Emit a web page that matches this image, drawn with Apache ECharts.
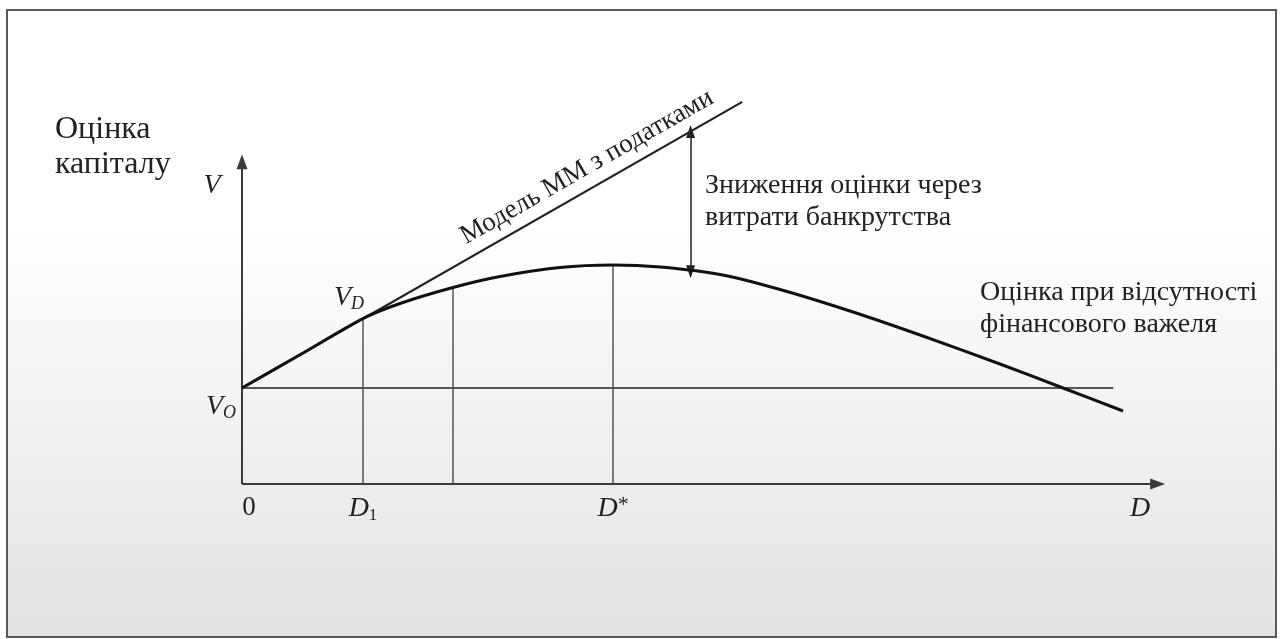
<!DOCTYPE html>
<html>
<head>
<meta charset="utf-8">
<script src="https://cdn.jsdelivr.net/npm/echarts@6/dist/echarts.min.js"></script>
<style>
html,body{margin:0;padding:0;background:#fff;}
#chart{width:1283px;height:639px;}
</style>
</head>
<body>
<div id="chart"></div>
<script>
// ---- data (conceptual units: debt D on x, firm value V on y) ----
const curveDebt  = [0, 6.28, 13.11, 17.12, 22.86, 27.95, 34.45, 40.20, 45.29, 51.79, 58.29, 65.87, 73.46, 82.12, 88.95, 95.45];
const curveValue = [25.0, 33.65, 43.1, 47.01, 51.17, 54.04, 56.38, 57.03, 56.51, 54.56, 50.65, 45.05, 38.80, 31.25, 25.0, 19.01];
const mmTaxDebt  = [0, 54.2];
const mmTaxValue = [25.0, 99.5];
const baseDebt   = [0, 94.4];
const baseValue  = [25.0, 25.0];
const dropDebt   = [13.11, 22.86, 40.20];
const dropValue  = [43.1, 51.17, 57.03];
const gapDebt    = [48.6, 48.6];
const gapValue   = [55.3, 91.8];
const axisXEnd   = 99.2;
const axisYEnd   = 83.9;
const xTickValues = [0, 13.11, 40.20, 97.3];
const xTickLabels = ['0', 'D1', 'D*', 'D'];

const zip = (a, b) => a.map((v, i) => [v, b[i]]);
const SERIF = "'Liberation Serif', 'DejaVu Serif', serif";
const TXT = '#222';
const tri = 'path://M5,0 L10,15 L0,15 Z';

const chart = echarts.init(document.getElementById('chart'), null, {renderer: 'canvas'});

function tickFmt(v) {
  const i = xTickValues.indexOf(v);
  if (i < 0) return '';
  const t = xTickLabels[i];
  if (t === '0') return '{n|0}';
  if (t === 'D1') return '{it|D}{sub|1}';
  if (t === 'D*') return '{it|D}{st|*}';
  return '{it|D}';
}

function gText(x, y, text, size, extra) {
  return {
    type: 'text', x: x, y: y, z: 50,
    style: Object.assign({
      text: text, font: size + "px " + SERIF, fill: TXT,
      textAlign: 'left', textVerticalAlign: 'middle'
    }, extra || {})
  };
}

const subRich = {
  it:  {fontFamily: SERIF, fontSize: 28, fontStyle: 'italic', fill: TXT, lineHeight: 30},
  sub: {fontFamily: SERIF, fontSize: 18, fontStyle: 'italic', fill: TXT, lineHeight: 22, verticalAlign: 'bottom'}
};

const option = {
  animation: false,
  backgroundColor: '#ffffff',
  grid: {left: 242, right: 118, top: 100, bottom: 155, containLabel: false},
  xAxis: {
    type: 'value', min: 0, max: 100,
    axisLine: {show: false}, axisTick: {show: false}, splitLine: {show: false},
    axisLabel: {
      show: true, customValues: xTickValues, margin: 10,
      formatter: tickFmt,
      rich: {
        n:   {fontFamily: SERIF, fontSize: 27, color: TXT, padding: [0, 0, 0, 14]},
        it:  {fontFamily: SERIF, fontSize: 28, fontStyle: 'italic', color: TXT, lineHeight: 30},
        sub: {fontFamily: SERIF, fontSize: 17, color: TXT, lineHeight: 20, verticalAlign: 'bottom'},
        st:  {fontFamily: SERIF, fontSize: 22, color: TXT, lineHeight: 30, verticalAlign: 'top'}
      }
    }
  },
  yAxis: {
    type: 'value', min: 0, max: 100,
    axisLine: {show: false}, axisTick: {show: false}, splitLine: {show: false},
    axisLabel: {show: false}
  },
  graphic: [
    {
      type: 'rect', z: -10, silent: true,
      shape: {x: 7, y: 10, width: 1269, height: 627},
      style: {
        stroke: '#5a5a5a', lineWidth: 2,
        fill: new echarts.graphic.LinearGradient(0, 0, 0, 1, [
          {offset: 0, color: '#ffffff'},
          {offset: 0.35, color: '#ffffff'},
          {offset: 1, color: '#e3e3e3'}
        ])
      }
    },
    gText(55, 130, 'Оцінка', 32),
    gText(55, 165, 'капіталу', 32),
    gText(212, 186, 'V', 28, {font: "italic 28px " + SERIF, textAlign: 'center'}),
    {
      type: 'text', x: 334, y: 298, z: 50,
      style: {text: '{it|V}{sub|D}', textVerticalAlign: 'middle', rich: subRich}
    },
    {
      type: 'text', x: 206, y: 407, z: 50,
      style: {text: '{it|V}{sub|O}', textVerticalAlign: 'middle', rich: subRich}
    },
    {
      type: 'text', x: 587, y: 167, z: 50, rotation: Math.atan(0.572),
      style: {
        text: 'Модель ММ з податками', font: "27px " + SERIF, fill: TXT,
        textAlign: 'center', textVerticalAlign: 'middle'
      }
    },
    gText(705, 186, 'Зниження оцінки через', 28),
    gText(705, 218, 'витрати банкрутства', 28),
    gText(980, 293, 'Оцінка при відсутності', 28),
    gText(980, 325, 'фінансового важеля', 28)
  ],
  series: [
    {
      type: 'line', name: 'base', data: zip(baseDebt, baseValue),
      symbol: 'none', silent: true, z: 3,
      lineStyle: {color: '#555', width: 2},
      markLine: {
        silent: true, animation: false,
        label: {show: false},
        data: [
          [{coord: [0, 0], symbol: 'none', lineStyle: {color: '#3a3a3a', width: 2}},
           {coord: [axisXEnd, 0], symbol: tri, symbolSize: [11, 15]}],
          [{coord: [0, 0], symbol: 'none', lineStyle: {color: '#3a3a3a', width: 2}},
           {coord: [0, axisYEnd], symbol: tri, symbolSize: [11, 15]}],
          ...dropDebt.map((d, i) => [
            {coord: [d, 0], symbol: 'none', lineStyle: {color: '#555', width: 1.5}},
            {coord: [d, dropValue[i]], symbol: 'none'}
          ]),
          [{coord: [gapDebt[0], gapValue[0]], symbol: tri, symbolSize: [9, 13], lineStyle: {color: '#222', width: 1.5}},
           {coord: [gapDebt[1], gapValue[1]], symbol: tri, symbolSize: [9, 13]}]
        ],
        lineStyle: {type: 'solid', color: '#3a3a3a', width: 2},
        symbol: ['none', 'none']
      }
    },
    {
      type: 'line', name: 'mm', data: zip(mmTaxDebt, mmTaxValue),
      symbol: 'none', silent: true, z: 4, clip: false,
      lineStyle: {color: '#222', width: 2.2}
    },
    {
      type: 'line', name: 'curve', data: zip(curveDebt, curveValue),
      symbol: 'none', silent: true, z: 5, smooth: 0.3, clip: false,
      lineStyle: {color: '#111', width: 3}
    }
  ]
};
chart.setOption(option);
</script>
</body>
</html>
